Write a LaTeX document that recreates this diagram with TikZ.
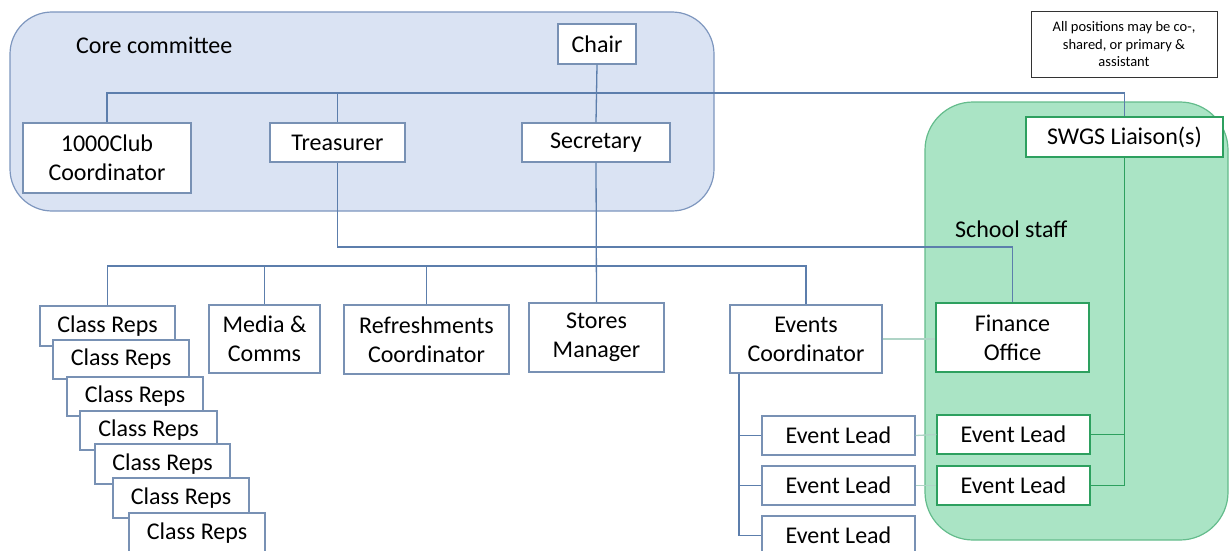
\documentclass[tikz,border=0pt]{standalone}
\usepackage{fontspec}
\setmainfont{Carlito}
\definecolor{corefill}{RGB}{218,227,243}
\definecolor{coreedge}{RGB}{125,150,190}
\definecolor{bline}{RGB}{92,126,172}
\definecolor{bedge}{RGB}{120,145,180}
\definecolor{gfill}{RGB}{170,228,197}
\definecolor{gedge}{RGB}{100,188,140}
\definecolor{gline}{RGB}{45,160,95}
\definecolor{lline}{RGB}{175,212,198}
\newcommand\bx[7]{\node[#6, minimum width={#4-#2}, minimum height={#5-#3}] (#1) at ({(#2+#4)/2},{(#3+#5)/2}) {#7};}
\tikzset{
  box/.style={draw=bedge, fill=white, line width=1.3pt, inner sep=0pt, align=center,
    font=\fontsize{24}{29}\selectfont},
  gbox/.style={box, draw=gline},
  notebox/.style={draw=black!80, fill=white, line width=1pt, inner sep=0pt, align=center,
    font=\fontsize{14.5}{17.5}\selectfont},
  conn/.style={draw=bline, line width=1.3pt},
  gconn/.style={draw=gline, line width=1.3pt},
  lconn/.style={draw=lline, line width=1.3pt},
  lbl/.style={anchor=west, inner sep=0pt, font=\fontsize{24}{29}\selectfont}
}
\begin{document}
\begin{tikzpicture}[x=1pt,y=-1pt]
\useasboundingbox (0,0) rectangle (1231,551);
% containers
\draw[fill=corefill, draw=coreedge, line width=1.2pt, rounded corners=42pt] (10,12) rectangle (714,211);
\draw[fill=gfill, draw=gedge, line width=1.2pt, rounded corners=48pt] (925,102) rectangle (1228,540);
\node[lbl] (corelbl) at (76,45) {Core committee};
\node[lbl] (schoollbl) at (955,229) {School staff};
% nodes
\bx{note}{1031}{12}{1217}{77}{notebox}{All positions may be co-,\\shared, or primary \&\\assistant}
\bx{chair}{558}{24}{636}{64}{box}{Chair}
\bx{club}{23}{123}{191}{193}{box}{1000Club\\Coordinator}
\bx{treas}{270}{123}{405}{162}{box}{Treasurer}
\bx{secr}{522}{123}{670}{162}{box}{Secretary}
\bx{swgs}{1026}{117}{1223}{157}{gbox}{SWGS Liaison(s)}
\bx{media}{209}{305}{320}{373}{box}{Media \&\\Comms}
\bx{refr}{344}{305}{509}{374}{box}{Refreshments\\Coordinator}
\bx{stores}{529}{303}{664}{372}{box}{Stores\\Manager}
\bx{events}{730}{305}{882}{373}{box}{Events\\Coordinator}
\bx{fin}{936}{303}{1089}{372}{gbox}{Finance\\Office}
\bx{elA}{762}{416}{915}{455}{box}{Event Lead}
\bx{elB}{762}{466}{915}{505}{box}{Event Lead}
\bx{elC}{762}{516}{915}{555}{box}{Event Lead}
\bx{erA}{937}{415}{1090}{454}{gbox}{Event Lead}
\bx{erB}{937}{466}{1090}{505}{gbox}{Event Lead}
\bx{crA}{40}{306}{175}{346}{box}{Class Reps}
\bx{crB}{53}{340}{189}{379}{box}{Class Reps}
\bx{crC}{67}{377}{203}{416}{box}{Class Reps}
\bx{crD}{80}{411}{217}{450}{box}{Class Reps}
\bx{crE}{95}{444}{230}{484}{box}{Class Reps}
\bx{crF}{113}{478}{249}{518}{box}{Class Reps}
\bx{crG}{129}{513}{265}{553}{box}{Class Reps}
% coordinates
\coordinate (top) at (0,93);
\coordinate (mid) at (0,266);
\coordinate (tr) at (0,247);
\coordinate (evx) at (739,0);
% connectors
\path[conn] (chair.south) -- (secr.north);
\path[conn] (club.north) -- (club.north |- top) -- (swgs.north |- top) -- (swgs.north);
\path[conn] (treas.north) -- (treas.north |- top);
\path[conn] (treas.south) -- (treas.south |- tr) -- (fin.north |- tr) -- (fin.north);
\path[conn] (secr.south) -- (stores.north);
\path[conn] (crA.north) -- (crA.north |- mid) -- (events.north |- mid) -- (events.north);
\path[conn] (media.north) -- (media.north |- mid);
\path[conn] (refr.north) -- (refr.north |- mid);
\path[conn] (events.south -| evx) -- (elC.west -| evx) -- (elC.west);
\path[conn] (elA.west -| evx) -- (elA.west);
\path[conn] (elB.west -| evx) -- (elB.west);
\path[lconn] (events.east) -- (events.east -| fin.west);
\path[lconn] (elA.east) -- (erA.west);
\path[lconn] (elB.east) -- (erB.west);
\path[gconn] (swgs.south) -- (erB.east -| swgs.south) -- (erB.east);
\path[gconn] (erA.east) -- (erA.east -| swgs.south);
\end{tikzpicture}
\end{document}
